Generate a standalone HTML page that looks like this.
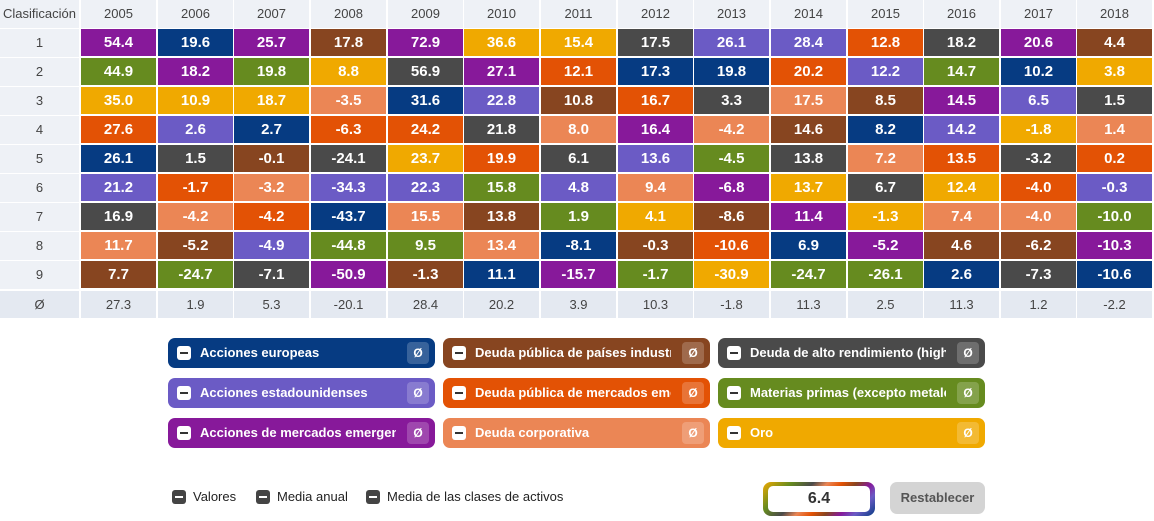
<!DOCTYPE html>
<html><head><meta charset="utf-8">
<style>
body{margin:0;width:1154px;height:521px;background:#fff;font-family:"Liberation Sans",sans-serif;position:relative;overflow:hidden}
.a{position:absolute;box-sizing:border-box}
.h{color:#444;font-size:13px;text-align:center;line-height:27px}
.c{color:#fff;font-weight:bold;font-size:15px;text-align:center;line-height:27px}
.lg{position:absolute;height:30px;width:267px;border-radius:7px;color:#fff;font-weight:bold;font-size:13px;line-height:30px;box-sizing:border-box}
.lg .t{position:absolute;left:32px;top:0;width:196px;overflow:hidden;white-space:nowrap}
.lg .m{position:absolute;left:9px;top:8px;width:14px;height:14px;background:#fff;border-radius:3px}
.lg .m:after{content:"";position:absolute;left:3px;top:6px;width:8px;height:2px;background:#333}
.lg .z{position:absolute;right:6px;top:4px;width:22px;height:22px;border-radius:4px;background:rgba(255,255,255,.2);text-align:center;line-height:22px;font-size:12px}
.sm{position:absolute;top:490px;width:14px;height:14px;background:#444;border-radius:3px}
.sm:after{content:"";position:absolute;left:3px;top:6px;width:8px;height:2px;background:#fff}
.st{position:absolute;top:489px;font-size:13px;color:#222}
</style></head><body>
<div id="g"></div>
<script>
var C={E:"#063b82",U:"#6b5bc5",M:"#87199a",G:"#874520",D:"#e35205",C:"#eb8655",H:"#4a4a4a",R:"#668b1f",O:"#f0a900"};
var cols="M E M G M O O H U U D H M G|R M R O H M D E E D U R E O|O O O C E U G D H C G M U H|D U E D D H C M C G E U O C|E H G H O D H U R H C D H D|U D C U U R U C M O H O D U|H C D E C G R O G M O C C R|C G U R R C E G D E M G G M|G R H M G E M R O R R E H E".split("|");
var vals=["54.4 19.6 25.7 17.8 72.9 36.6 15.4 17.5 26.1 28.4 12.8 18.2 20.6 4.4","44.9 18.2 19.8 8.8 56.9 27.1 12.1 17.3 19.8 20.2 12.2 14.7 10.2 3.8","35.0 10.9 18.7 -3.5 31.6 22.8 10.8 16.7 3.3 17.5 8.5 14.5 6.5 1.5","27.6 2.6 2.7 -6.3 24.2 21.8 8.0 16.4 -4.2 14.6 8.2 14.2 -1.8 1.4","26.1 1.5 -0.1 -24.1 23.7 19.9 6.1 13.6 -4.5 13.8 7.2 13.5 -3.2 0.2","21.2 -1.7 -3.2 -34.3 22.3 15.8 4.8 9.4 -6.8 13.7 6.7 12.4 -4.0 -0.3","16.9 -4.2 -4.2 -43.7 15.5 13.8 1.9 4.1 -8.6 11.4 -1.3 7.4 -4.0 -10.0","11.7 -5.2 -4.9 -44.8 9.5 13.4 -8.1 -0.3 -10.6 6.9 -5.2 4.6 -6.2 -10.3","7.7 -24.7 -7.1 -50.9 -1.3 11.1 -15.7 -1.7 -30.9 -24.7 -26.1 2.6 -7.3 -10.6"];
var avg="27.3 1.9 5.3 -20.1 28.4 20.2 3.9 10.3 -1.8 11.3 2.5 11.3 1.2 -2.2".split(" ");
var h="";
function box(x,y,w,hh,bg,cls,t){h+='<div class="a '+cls+'" style="left:'+x+'px;top:'+y+'px;width:'+w+'px;height:'+hh+'px;background:'+bg+'">'+t+'</div>';}
box(0,0,79,28,"#eef1f6","h","Clasificación");
for(var i=0;i<14;i++){var x=Math.round(81+i*76.65);box(x,0,75,28,"#eef1f6","h",2005+i);box(x,291,75,27,"#e4e9f1","h",avg[i]);}
box(0,291,79,27,"#e4e9f1","h","Ø");
for(var j=0;j<9;j++){var y=Math.round(29+j*29.05);box(0,y,79,28,"#eef1f6","h",j+1);
var cc=cols[j].split(" "),vv=vals[j].split(" ");
for(var i=0;i<14;i++){var x=Math.round(81+i*76.65);box(x,y,75,27,C[cc[i]],"c",vv[i]);}}
var L=[["Acciones europeas","E"],["Deuda pública de países industrializados","G"],["Deuda de alto rendimiento (high yield)","H"],["Acciones estadounidenses","U"],["Deuda pública de mercados emergentes","D"],["Materias primas (excepto metales)","R"],["Acciones de mercados emergentes","M"],["Deuda corporativa","C"],["Oro","O"]];
for(var k=0;k<9;k++){var x=168+(k%3)*275,y=338+Math.floor(k/3)*40;
h+='<div class="lg" style="left:'+x+'px;top:'+y+'px;background:'+C[L[k][1]]+'"><span class="m"></span><span class="t">'+L[k][0]+'</span><span class="z">Ø</span></div>';}
h+='<span class="sm" style="left:172px"></span><span class="st" style="left:193px">Valores</span>';
h+='<span class="sm" style="left:256px"></span><span class="st" style="left:277px">Media anual</span>';
h+='<span class="sm" style="left:366px"></span><span class="st" style="left:387px">Media de las clases de activos</span>';
h+='<div class="a" style="left:763px;top:482px;width:112px;height:34px;border-radius:8px;background:linear-gradient(135deg,#f0a900 0%,#668b1f 20%,#4a4a4a 35%,#eb8655 45%,#e35205 55%,#874520 65%,#87199a 75%,#6b5bc5 85%,#063b82 100%)"></div>';
h+='<div class="a" style="left:768px;top:486px;width:102px;height:26px;border-radius:5px;background:#fff;text-align:center;line-height:26px;font-size:16px;font-weight:bold;color:#333">6.4</div>';
h+='<div class="a" style="left:890px;top:482px;width:95px;height:32px;border-radius:7px;background:#d4d4d4;text-align:center;line-height:32px;font-size:13px;font-weight:bold;color:#555">Restablecer</div>';
document.getElementById("g").innerHTML=h;
</script>
</body></html>
